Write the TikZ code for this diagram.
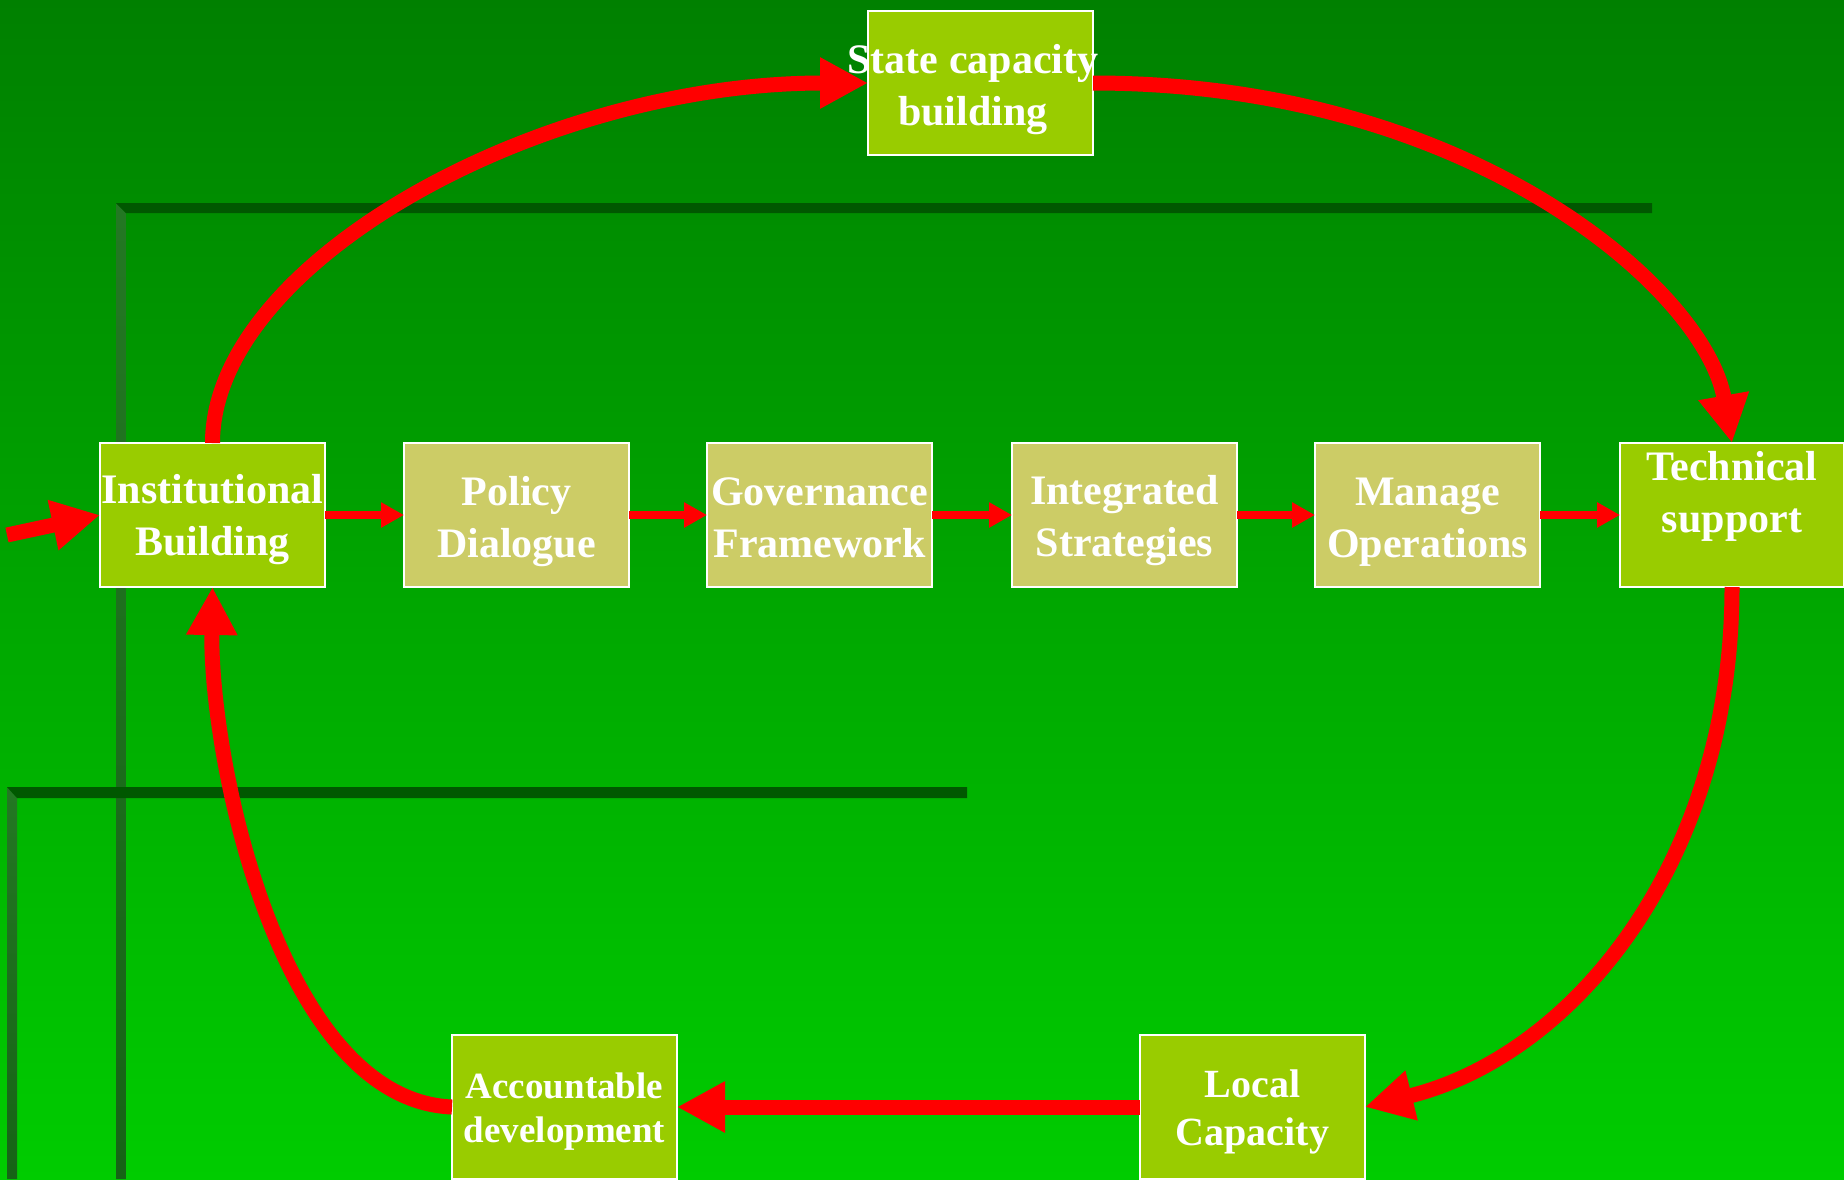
\documentclass[tikz,border=0pt]{standalone}
\usepackage{fontspec}
\setmainfont{Liberation Serif}
\usetikzlibrary{arrows.meta}
\definecolor{bgtop}{RGB}{0,128,0}
\definecolor{bgbot}{RGB}{0,204,0}
\definecolor{limebox}{RGB}{153,204,0}
\definecolor{khakibox}{RGB}{204,204,102}
\definecolor{hlinecol}{RGB}{0,88,0}
\definecolor{vlinetop}{RGB}{35,120,35}
\definecolor{vlinebot}{RGB}{22,100,22}
\definecolor{arrowred}{RGB}{255,0,0}
\begin{document}
\begin{tikzpicture}[x=1pt,y=-1pt,
  cbox/.style={draw=white, line width=1.5pt, minimum width=225pt, minimum height=144pt, inner sep=0pt, outer sep=0pt},
  limeb/.style={cbox, fill=limebox},
  khakib/.style={cbox, fill=khakibox},
  txt/.style={text=white, align=center, inner sep=0pt, font={\bfseries\fontsize{42pt}{52pt}\selectfont}},
  txtsmall/.style={txt, font={\bfseries\fontsize{37pt}{44pt}\selectfont}},
  txtmid/.style={txt, font={\bfseries\fontsize{40pt}{48pt}\selectfont}},
  bigarrow/.style={draw=arrowred, line width=15pt, -{Triangle[length=48pt,width=48pt]}},
  smallarrow/.style={draw=arrowred, line width=8pt, -{Triangle[length=23pt,width=24pt]}}
]
\useasboundingbox (0,0) rectangle (1844,1179);
% background
\shade[top color=bgtop, bottom color=bgbot] (0,0) rectangle (1844,1179);
% decorative frame lines
\shade[top color=vlinetop, bottom color=vlinebot] (116,203) -- (126,213) -- (126,1179) -- (116,1179) -- cycle;
\fill[hlinecol] (116,203) -- (1652,203) -- (1652,213) -- (126,213) -- cycle;
\shade[top color=vlinetop, bottom color=vlinebot] (7,787) -- (17,798) -- (17,1179) -- (7,1179) -- cycle;
\fill[hlinecol] (7,787) -- (967,787) -- (967,798) -- (17,798) -- cycle;

% boxes
\node[limeb] (inst) at (212.5,515) {};
\node[khakib] (pol) at (516.5,515) {};
\node[khakib] (gov) at (819.5,515) {};
\node[khakib] (int) at (1124.5,515) {};
\node[khakib] (man) at (1427.5,515) {};
\node[limeb, minimum width=224pt] (tech) at (1732,515) {};
\node[limeb] (state) at (980.5,83) {};
\node[limeb] (acc) at (564.5,1107) {};
\node[limeb] (loc) at (1252.5,1107) {};

% texts
\node[txt] (instT) at (212.5,518.6) {\strut Institutional\\\strut Building};
\node[txt] (polT) at (516.5,520.6) {\strut Policy\\\strut Dialogue};
\node[txt] (govT) at (819.5,520.6) {\strut Governance\\\strut Framework};
\node[txt] (intT) at (1124.5,520) {\strut Integrated\\\strut Strategies};
\node[txt] (manT) at (1427.5,520.6) {\strut Manage\\\strut Operations};
\node[txt] (techT) at (1732,495.6) {\strut Technical\\\strut support};
\node[txt] (stateT) at (973,88.6) {\strut State capacity\\\strut building};
\node[txtsmall] (accT) at (564.5,1111.2) {\strut Accountable\\\strut development};
\node[txtmid] (locT) at (1252.5,1111.4) {\strut Local\\\strut Capacity};

% connectors
\coordinate (src) at (7,535);
\draw[bigarrow] (src) -- (inst.west);
\draw[smallarrow] (inst.east) -- (pol.west);
\draw[smallarrow] (pol.east) -- (gov.west);
\draw[smallarrow] (gov.east) -- (int.west);
\draw[smallarrow] (int.east) -- (man.west);
\draw[smallarrow] (man.east) -- (tech.west);
\draw[bigarrow] (inst.north) .. controls (212.5,263) and (539,83) .. (state.west);
\draw[bigarrow] (state.east) .. controls (1470,83) and (1705,290) .. (tech.north);
\draw[bigarrow] (tech.south) .. controls (1732,860) and (1575,1055) .. (loc.east);
\draw[bigarrow] (loc.west) -- (acc.east);
\draw[bigarrow] (acc.west) .. controls (280,1100) and (210,760) .. (inst.south);
\end{tikzpicture}
\end{document}
